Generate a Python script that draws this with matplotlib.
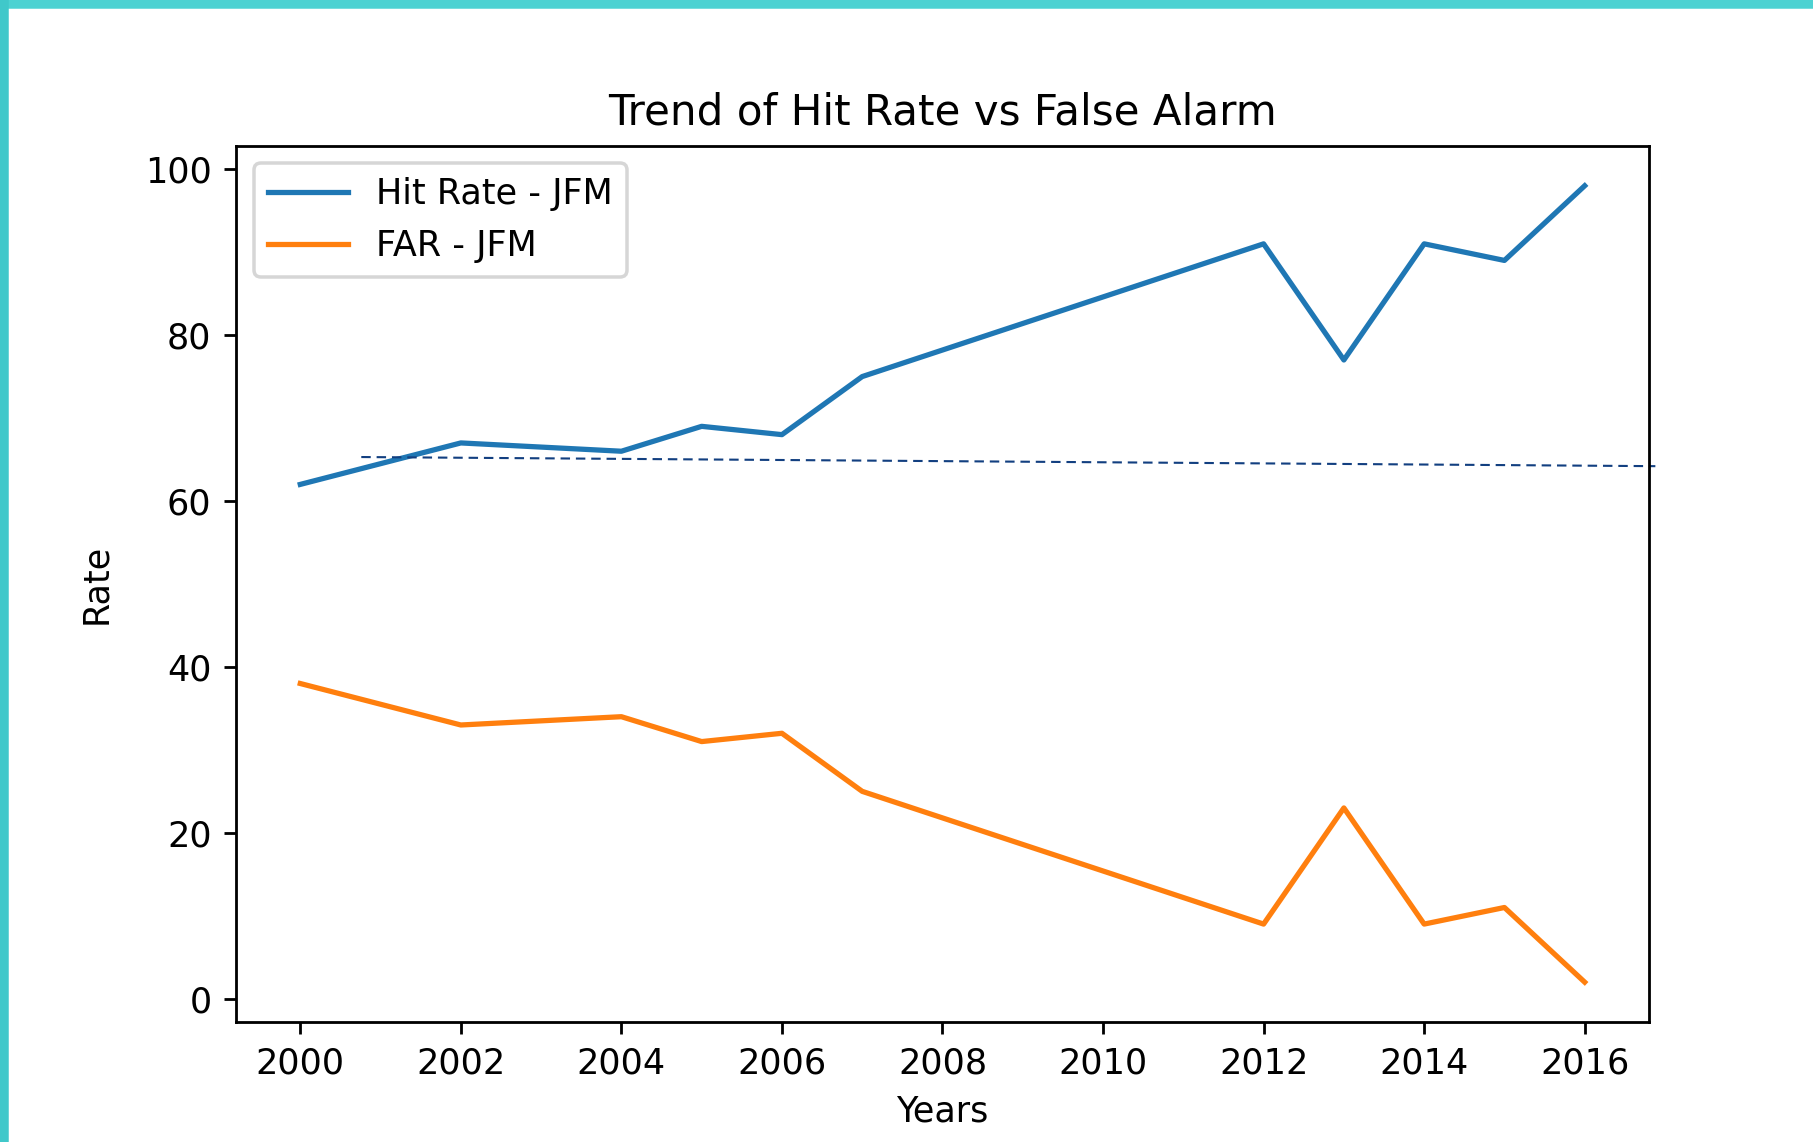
import matplotlib
matplotlib.use("Agg")
import matplotlib.pyplot as plt
from matplotlib.patches import Rectangle

# Data
years = [2000, 2002, 2004, 2005, 2006, 2007, 2012, 2013, 2014, 2015, 2016]
hit_rate = [62, 67, 66, 69, 68, 75, 91, 77, 91, 89, 98]
far = [38, 33, 34, 31, 32, 25, 9, 23, 9, 11, 2]

# hand-drawn dashed reference line overlaid on the screenshot
ref_x = [2000.76, 2016.88]
ref_y = [65.3, 64.2]

DPI = 252
fig = plt.figure(figsize=(1813 / DPI, 1142 / DPI), dpi=DPI)
ax = fig.add_subplot(111)
fig.subplots_adjust(left=0.1302, right=0.9095, top=0.8722, bottom=0.1051)

ax.plot(years, hit_rate, label="Hit Rate - JFM")
ax.plot(years, far, label="FAR - JFM")

# keep the limits from the data, the overlay must not move them
xlim, ylim = ax.get_xlim(), ax.get_ylim()
ax.plot(ref_x, ref_y, color="#123f80", linewidth=0.6, dashes=(4.5, 2.8),
        clip_on=False)
ax.set_xlim(xlim)
ax.set_ylim(ylim)

ax.set_title("Trend of Hit Rate vs False Alarm")
ax.set_xlabel("Years")
ax.set_ylabel("Rate", labelpad=9)
ax.set_xticks(range(2000, 2017, 2))
ax.legend(loc="upper left", handlelength=2.3)

# teal frame of the screenshot (top and left edges)
w, h = 1813, 1142
fig.patches.append(Rectangle((0, 1 - 7 / h), 1, 7 / h, transform=fig.transFigure,
                             color="#4dd2d2", zorder=10))
fig.patches.append(Rectangle((0, 0), 7 / w, 1, transform=fig.transFigure,
                             color="#40c8ca", zorder=10))

fig.savefig("out.png", dpi=DPI)
